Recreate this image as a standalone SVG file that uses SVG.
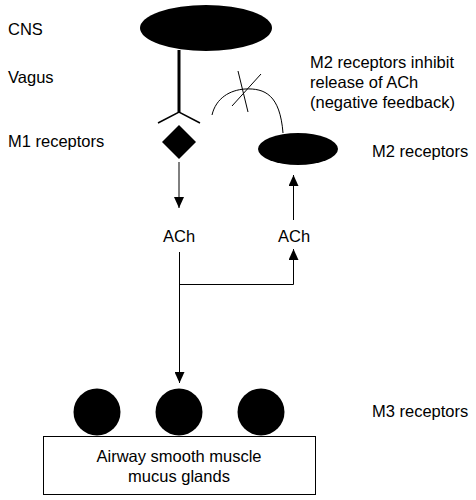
<svg xmlns="http://www.w3.org/2000/svg" width="476" height="500" viewBox="0 0 476 500">
<style>
text{font-family:"Liberation Sans",Arial,sans-serif;font-size:16.5px;fill:#000}
.ln{stroke:#000;stroke-width:1;fill:none}
.blk{fill:#000}
</style>
<defs>
<marker id="ah" markerWidth="12" markerHeight="10" refX="11" refY="5" orient="auto" markerUnits="userSpaceOnUse">
<path d="M0,0 L11,5 L0,10 Z" fill="#000"/>
</marker>
</defs>
<rect width="476" height="500" fill="#fff"/>
<g id="cns"><ellipse cx="206" cy="28" rx="66" ry="23" class="blk"/><text x="8" y="35">CNS</text></g>
<g id="vagus"><line x1="179" y1="50" x2="179" y2="112" stroke="#000" stroke-width="3"/><polyline points="158,123 179,112 200,123" stroke="#000" stroke-width="1.5" fill="none"/><text x="8" y="83">Vagus</text></g>
<g id="m1"><polygon points="179,125 196,142 179,159 162,142" class="blk"/><text x="8" y="147">M1 receptors</text></g>
<g id="m2"><ellipse cx="298" cy="149" rx="40" ry="16" class="blk"/><text x="372" y="157">M2 receptors</text></g>
<g id="feedback"><path class="ln" d="M212,115 C216,98 230,90 245,89 C265,88 280,95 283,133"/><line class="ln" x1="238" y1="71" x2="248" y2="112"/><line class="ln" x1="232" y1="106" x2="261" y2="74"/>
<text x="310" y="68">M2 receptors inhibit</text><text x="310" y="88">release of ACh</text><text x="310" y="108">(negative feedback)</text></g>
<g id="ach1"><text x="163" y="242">ACh</text></g>
<g id="ach2"><text x="278" y="242">ACh</text></g>
<g id="m3"><circle cx="97" cy="412" r="23.5" class="blk"/><circle cx="179" cy="412" r="23.5" class="blk"/><circle cx="261" cy="412" r="23.5" class="blk"/><text x="372" y="417">M3 receptors</text></g>
<g id="target"><rect x="43.5" y="436.5" width="272" height="58" fill="#fff" stroke="#000"/><text x="179" y="462" text-anchor="middle">Airway smooth muscle</text><text x="179" y="482" text-anchor="middle">mucus glands</text></g>
<g id="connectors">
<line class="ln" x1="179" y1="162" x2="179" y2="208" marker-end="url(#ah)"/>
<line class="ln" x1="293.5" y1="220" x2="293.5" y2="175" marker-end="url(#ah)"/>
<line class="ln" x1="179.5" y1="252" x2="179.5" y2="383" marker-end="url(#ah)"/>
<polyline class="ln" points="179.5,284.5 293.5,284.5 293.5,249" marker-end="url(#ah)"/>
</g>
</svg>
